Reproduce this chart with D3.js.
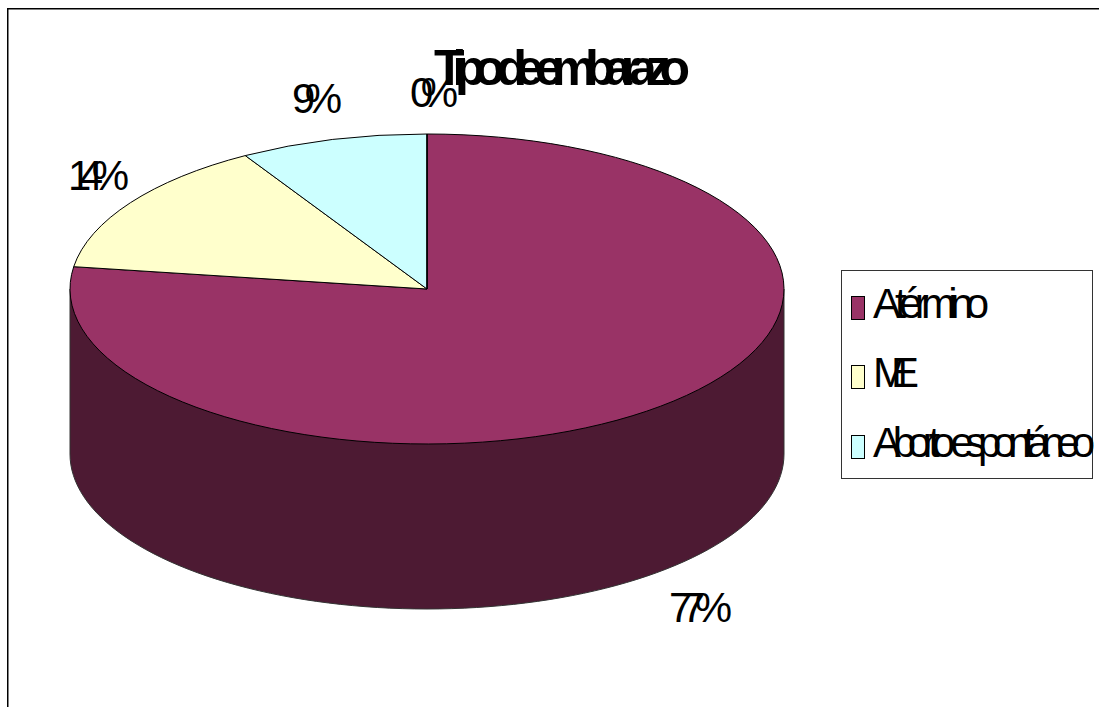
<!DOCTYPE html>
<html lang="es">
<head>
<meta charset="utf-8"/>
<title>Tipo de embarazo</title>
<script src="https://d3js.org/d3.v7.min.js"></script>
<style>
  html, body { margin: 0; background: #fff; overflow: hidden; }
  svg { display: block; }
  text { font-family: "Liberation Sans", Arial, sans-serif; fill: #000; }
</style>
</head>
<body>
<div id="chart"></div>
<script>
// data
var title = "Tipo de embarazo";
var categories = ["A término", "ME", "Aborto espontáneo"];
var values = [77.3, 14.2, 8.5, 0];
var valueLabels = ["77%", "14%", "9%", "0%"];

// layout
var w = 1099, h = 707;
var cx = 427, cy = 289, rx = 357, ry = 155, depth = 165;
var colours = ["#993366", "#FFFFCC", "#CCFFFF", "#FFFFFF"];
var sideColour = "#4D1A33";
var labelBoxes = [[669, 622, 63], [68, 190, 61], [292, 113, 50], [410, 107, 48]]; // x, baseline, width
var legendRows = [296, 365, 435];
var legendWidths = [116, 46, 222];

var svg = d3.select("#chart").append("svg").attr("width", w).attr("height", h);

// outer frame, only its left and top edges fall inside the picture
svg.append("rect")
    .attr("x", 7.75).attr("y", 8.75)
    .attr("width", 1200).attr("height", 800)
    .attr("fill", "#fff").attr("stroke", "#000").attr("stroke-width", 1.5);

// unit circle to screen
var x = d3.scaleLinear().domain([-1, 1]).range([cx - rx, cx + rx]);
var y = d3.scaleLinear().domain([-1, 1]).range([cy - ry, cy + ry]);

// side wall: front half of the ellipse pushed down, from right edge round to left edge
var wallAngles = d3.range(0, 181, 2).map(function(a) { return a * Math.PI / 180; });
var wallLine = d3.line()
    .x(function(a) { return x(Math.cos(a)); })
    .y(function(a) { return y(Math.sin(a)) + depth; });
var wallPath = "M" + x(1) + "," + cy + "L" + wallLine(wallAngles).slice(1) + "L" + x(-1) + "," + cy + "Z";
svg.append("path")
    .attr("d", wallPath)
    .attr("fill", sideColour)
    .attr("stroke", "#333")
    .attr("stroke-width", 1);

// top of the pie
var pie = d3.pie().sort(null);
var arc = d3.arc().innerRadius(0).outerRadius(rx);
svg.append("g")
    .attr("transform", "translate(" + cx + "," + cy + ") scale(1," + (ry / rx) + ")")
    .selectAll("path")
    .data(pie(values))
    .enter()
    .append("path")
    .attr("d", arc)
    .attr("fill", function(d, i) { return colours[i]; })
    .attr("stroke", "#000")
    .attr("stroke-width", 1)
    .attr("vector-effect", "non-scaling-stroke");

// percentage labels
svg.selectAll("text.pct")
    .data(valueLabels)
    .enter()
    .append("text")
    .attr("class", "pct")
    .attr("x", function(d, i) { return labelBoxes[i][0]; })
    .attr("y", function(d, i) { return labelBoxes[i][1]; })
    .attr("font-size", 42)
    .attr("textLength", function(d, i) { return labelBoxes[i][2]; })
    .attr("lengthAdjust", "spacing")
    .text(function(d) { return d; });

// title
svg.append("text")
    .attr("x", 434).attr("y", 85)
    .attr("font-size", 50)
    .attr("font-weight", "bold")
    .attr("textLength", 256)
    .attr("lengthAdjust", "spacing")
    .text(title);

// legend
svg.append("rect")
    .attr("x", 841.5).attr("y", 270.5)
    .attr("width", 251).attr("height", 208)
    .attr("fill", "none").attr("stroke", "#333");

var rows = svg.selectAll("g.legend")
    .data(categories)
    .enter()
    .append("g")
    .attr("class", "legend")
    .attr("transform", function(d, i) { return "translate(851," + legendRows[i] + ")"; });

rows.append("rect")
    .attr("x", 0.5).attr("y", 0.5)
    .attr("width", 13).attr("height", 23)
    .attr("fill", function(d, i) { return colours[i]; })
    .attr("stroke", "#000");

rows.append("text")
    .attr("x", 22).attr("y", 22)
    .attr("font-size", 42)
    .attr("textLength", function(d, i) { return legendWidths[i]; })
    .attr("lengthAdjust", "spacing")
    .text(function(d) { return d; });
</script>
</body>
</html>
